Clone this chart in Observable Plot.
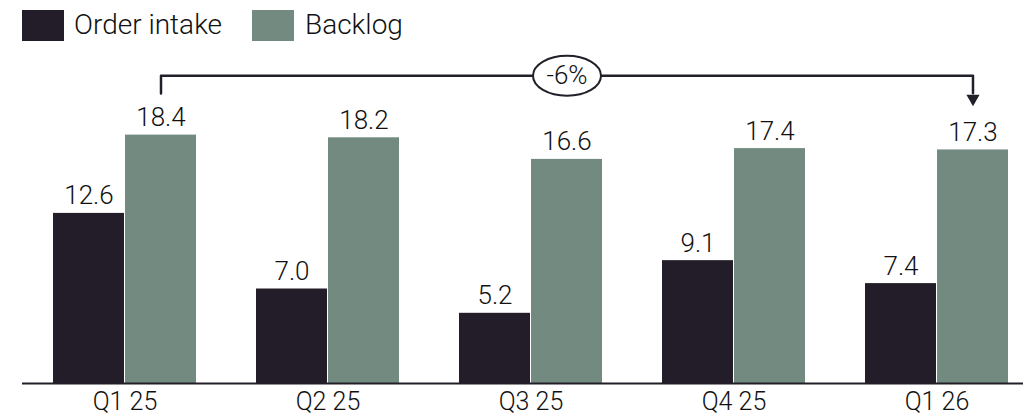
<!DOCTYPE html>
<html>
<head>
<meta charset="utf-8">
<script src="https://cdn.jsdelivr.net/npm/d3@7"></script>
<script src="https://cdn.jsdelivr.net/npm/@observablehq/plot@0.6"></script>
<style>
  html, body { margin: 0; padding: 0; background: #fff; }
  body { width: 1023px; height: 418px; overflow: hidden; font-family: Roboto, "Liberation Sans", sans-serif; font-weight: 300; color: #111; }
  #legend { position: relative; height: 50px; }
  .sw { position: absolute; top: 10px; width: 42px; height: 31px; }
  .lt { position: absolute; top: 7px; font-size: 28px; line-height: 36px; white-space: nowrap; }
</style>
</head>
<body>
<div id="legend"></div>
<div id="chart"></div>
<script>
const quarters = ["Q1 25", "Q2 25", "Q3 25", "Q4 25", "Q1 26"];
const orderIntake = [12.6, 7.0, 5.2, 9.1, 7.4];
const backlog = [18.4, 18.2, 16.6, 17.4, 17.3];
const seriesNames = ["Order intake", "Backlog"];
const seriesColors = ["#221d28", "#728a7f"];
const changeLabel = "-6%";
const changeFrom = "Q1 25";
const changeTo = "Q1 26";
const changeMid = "Q3 25";
// annotation bracket heights (chart units)
const bracketTop = 22.8;
const bracketLeftEnd = 21.48;
const bracketRightEnd = 21.5;
const arrowHeadAt = 21.1;

const dark = "#231f29";

// legend
const legend = document.getElementById("legend");
const legendPos = [[22, 74], [252, 305]];
seriesNames.forEach((name, i) => {
  const sw = document.createElement("div");
  sw.className = "sw";
  sw.style.left = legendPos[i][0] + "px";
  sw.style.background = seriesColors[i];
  legend.appendChild(sw);
  const t = document.createElement("div");
  t.className = "lt";
  t.style.left = legendPos[i][1] + "px";
  t.textContent = name;
  legend.appendChild(t);
});

const intakeData = quarters.map((q, i) => ({quarter: q, value: orderIntake[i]}));
const backlogData = quarters.map((q, i) => ({quarter: q, value: backlog[i]}));

const bracket = [
  {quarter: changeFrom, v: bracketLeftEnd},
  {quarter: changeFrom, v: bracketTop},
  {quarter: changeTo, v: bracketTop},
  {quarter: changeTo, v: bracketRightEnd}
];

const half = 72;
const ellipseSymbol = {
  draw(context) {
    const rx = 34, ry = 20, k = 0.5523;
    context.moveTo(rx, 0);
    context.bezierCurveTo(rx, ry * k, rx * k, ry, 0, ry);
    context.bezierCurveTo(-rx * k, ry, -rx, ry * k, -rx, 0);
    context.bezierCurveTo(-rx, -ry * k, -rx * k, -ry, 0, -ry);
    context.bezierCurveTo(rx * k, -ry, rx, -ry * k, rx, 0);
    context.closePath();
  }
};

const plot = Plot.plot({
  width: 1023,
  height: 368,
  marginLeft: 51,
  marginRight: 12,
  marginTop: 63,
  marginBottom: 35,
  style: {fontFamily: "Roboto, 'Liberation Sans', sans-serif", fontWeight: 300, fontSize: "26px", color: "#111", background: "#fff"},
  x: {domain: quarters, paddingInner: 0.2941, paddingOuter: 0, label: null},
  y: {domain: [0, 20], axis: null},
  marks: [
    Plot.barY(intakeData, {x: "quarter", y: "value", fill: seriesColors[0], insetRight: half}),
    Plot.barY(backlogData, {x: "quarter", y: "value", fill: seriesColors[1], insetLeft: half}),
    Plot.ruleY([0], {stroke: dark, strokeWidth: 2, insetLeft: -29, insetRight: -12}),
    Plot.text(intakeData, {x: "quarter", y: "value", text: d => d.value.toFixed(1), dx: -half / 2, dy: -9, lineAnchor: "bottom", fill: "#111", fontSize: 26}),
    Plot.text(backlogData, {x: "quarter", y: "value", text: d => d.value.toFixed(1), dx: half / 2, dy: -9, lineAnchor: "bottom", fill: "#111", fontSize: 26}),
    Plot.line(bracket, {x: "quarter", y: "v", dx: half / 2, stroke: dark, strokeWidth: 2.5, curve: "linear"}),
    Plot.dot([{quarter: changeTo, v: arrowHeadAt}], {x: "quarter", y: "v", dx: half / 2, symbol: "triangle2", r: 6.3, rotate: 180, fill: dark, stroke: "none"}),
    Plot.dot([{quarter: changeMid, v: bracketTop}], {x: "quarter", y: "v", dx: half / 2, symbol: ellipseSymbol, fill: "#fff", stroke: dark, strokeWidth: 2}),
    Plot.text([{quarter: changeMid, v: bracketTop}], {x: "quarter", y: "v", dx: half / 2, text: () => changeLabel, fill: "#111", fontSize: 26}),
    Plot.axisX({tickSize: 0, tickPadding: 9, fontSize: 25, fill: "#111"})
  ]
});
document.getElementById("chart").appendChild(plot);
</script>
</body>
</html>
